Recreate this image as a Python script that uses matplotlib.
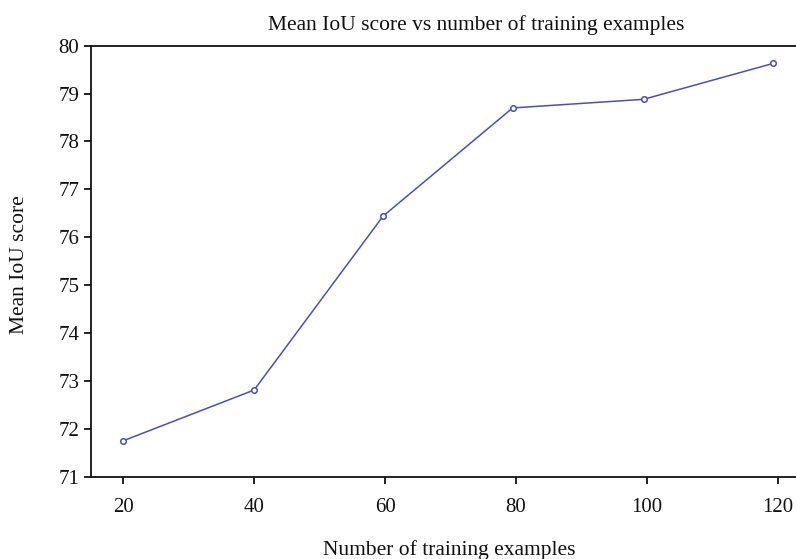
import matplotlib
matplotlib.use('Agg')
from matplotlib import pyplot as plt

# values
n_examples = [20, 40, 59.7, 79.5, 99.5, 119.3]
mean_iou = [71.75, 72.81, 76.44, 78.70, 78.88, 79.63]
x_ticks = [20, 40, 60, 80, 100, 120]
y_ticks = [71, 72, 73, 74, 75, 76, 77, 78, 79, 80]

plt.rcParams['font.family'] = ['Liberation Serif', 'DejaVu Serif']

W, H = 796, 559
fig = plt.figure(figsize=(W / 100, H / 100), dpi=100)

left, right, top, bottom = 90.5, 796, 45.7, 476.7
ax = fig.add_axes([left / W, 1 - bottom / H, (right - left) / W, (bottom - top) / H])

ax.plot(n_examples, mean_iou, color='#4a4fb6', linewidth=1.1,
        marker='o', markersize=4, markerfacecolor='white',
        markeredgecolor='#4a4fb6', markeredgewidth=1.1)

ax.set_xlim(15, 122.8)
ax.set_ylim(71, 80)
ax.set_xticks(x_ticks)
ax.set_yticks(y_ticks)

ax.spines['right'].set_visible(False)
for s in ['left', 'bottom', 'top']:
    ax.spines[s].set_linewidth(1.3)
    ax.spines[s].set_color('#111111')

ax.tick_params(axis='both', direction='out', length=5, width=1.3, labelsize=15,
               colors='#111111')
ax.tick_params(axis='x', pad=10)
ax.tick_params(axis='y', pad=3)

fig.text(476 / W, 1 - 25 / H, 'Mean IoU score vs number of training examples',
         ha='center', va='center', fontsize=15.5, color='#111111')
fig.text(449 / W, 1 - 550 / H, 'Number of training examples',
         ha='center', va='center', fontsize=15.5, color='#111111')
fig.text(20 / W, 1 - 265 / H, 'Mean IoU score', rotation=90,
         ha='center', va='center', fontsize=15.5, color='#111111')

fig.savefig('out.png', dpi=100)
